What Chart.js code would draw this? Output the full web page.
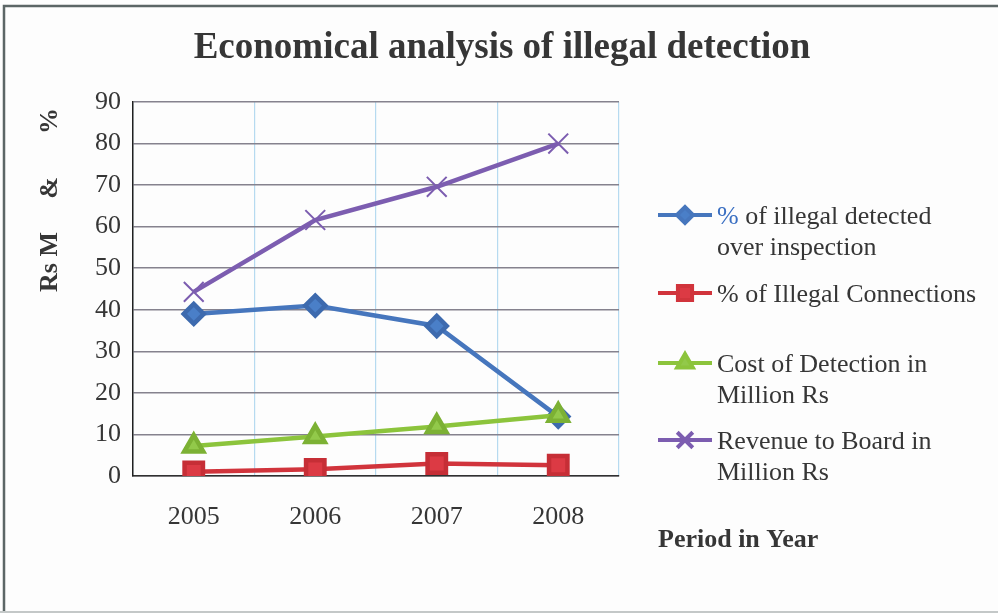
<!DOCTYPE html>
<html>
<head>
<meta charset="utf-8">
<script src="https://cdn.jsdelivr.net/npm/chart.js@4.4.1/dist/chart.umd.min.js"></script>
<style>
  html, body { margin: 0; padding: 0; background: #fdfdfd; }
  canvas { display: block; }
</style>
</head>
<body>
<canvas id="chart" width="998" height="613"></canvas>
<script>
// Years on the horizontal axis
const years = ['2005', '2006', '2007', '2008'];

// Series values (Rs M and %)
const pctDetectedOverInspection = [39.0, 41.0, 36.1, 14.3];
const pctIllegalConnections = [1.0, 1.6, 3.0, 2.6];
const costOfDetection = [7.2, 9.5, 11.9, 14.6];
const revenueToBoard = [44.3, 61.6, 69.6, 80.0];

// Legend text, one array of lines per series
const seriesLabels = [
  ['% of illegal detected', 'over inspection'],
  ['% of Illegal Connections'],
  ['Cost of Detection in', 'Million Rs'],
  ['Revenue to Board in', 'Million Rs']
];

const chartTitle = 'Economical analysis of illegal detection';
const xAxisTitle = 'Period in Year';
const yAxisTitleParts = ['Rs M', '&', '%'];

const SERIF = "'Liberation Serif', 'Times New Roman', serif";
const TEXT = '#363636';

// Title, axis titles, frame and multi-line legend
const decorations = {
  id: 'decorations',
  beforeDraw(chart) {
    const ctx = chart.ctx;
    ctx.save();
    ctx.fillStyle = '#fdfdfd';
    ctx.fillRect(0, 0, chart.width, chart.height);
    // outer frame
    ctx.strokeStyle = '#5c6666';
    ctx.lineWidth = 2.5;
    ctx.beginPath();
    ctx.moveTo(4, chart.height);
    ctx.lineTo(4, 6);
    ctx.lineTo(chart.width, 6);
    ctx.stroke();
    ctx.strokeStyle = '#c4c8c8';
    ctx.lineWidth = 2;
    ctx.beginPath();
    ctx.moveTo(0, chart.height - 1);
    ctx.lineTo(chart.width, chart.height - 1);
    ctx.stroke();
    ctx.restore();
  },
  afterDraw(chart) {
    const ctx = chart.ctx;
    ctx.save();
    ctx.fillStyle = TEXT;
    ctx.textBaseline = 'middle';

    // chart title
    ctx.font = 'bold 37px ' + SERIF;
    ctx.textAlign = 'center';
    ctx.fillText(chartTitle, 502, 48, 622);

    // x axis title, set to the right below the legend
    ctx.font = 'bold 26px ' + SERIF;
    ctx.textAlign = 'left';
    ctx.fillText(xAxisTitle, 658, 540);

    // y axis title, rotated, spaced out along the upper part of the axis
    ctx.save();
    ctx.translate(50, 0);
    ctx.rotate(-Math.PI / 2);
    ctx.textAlign = 'center';
    ctx.font = 'bold 26px ' + SERIF;
    const yPos = [262, 188, 121];
    yAxisTitleParts.forEach((t, i) => ctx.fillText(t, -yPos[i], 0));
    ctx.restore();

    // legend
    const rows = [215, 293, 363, 440];
    const lineH = 31;
    chart.data.datasets.forEach((ds, i) => {
      const y = rows[i];
      ctx.strokeStyle = ds.borderColor;
      ctx.lineWidth = 4;
      ctx.beginPath();
      ctx.moveTo(658, y);
      ctx.lineTo(712, y);
      ctx.stroke();
      ctx.fillStyle = ds.pointBackgroundColor;
      ctx.strokeStyle = ds.borderColor;
      Chart.helpers.drawPoint(ctx, {
        pointStyle: ds.pointStyle,
        radius: ds.legendRadius,
        rotation: 0,
        borderWidth: ds.pointStyle === 'crossRot' ? 2 : 1
      }, 685, y);

      ctx.font = '26px ' + SERIF;
      ctx.textAlign = 'left';
      seriesLabels[i].forEach((line, j) => {
        let x = 717;
        const ty = y + 2 + j * lineH;
        if (i === 0 && j === 0) {
          // leading percent sign printed in the series colour
          ctx.fillStyle = '#3a6fc2';
          ctx.fillText('%', x, ty);
          x += ctx.measureText('%').width;
          line = line.slice(1);
        }
        ctx.fillStyle = TEXT;
        ctx.fillText(line, x, ty);
      });
    });
    ctx.restore();
  }
};

new Chart(document.getElementById('chart'), {
  type: 'line',
  data: {
    labels: years,
    datasets: [
      {
        label: seriesLabels[0].join(' '),
        data: pctDetectedOverInspection,
        borderColor: '#4676bd',
        backgroundColor: '#4676bd',
        pointBackgroundColor: '#4a7fc8',
        pointBorderColor: '#3d6aae',
        pointStyle: 'rectRot',
        pointRadius: 10,
        legendRadius: 8,
        borderWidth: 4.5,
        order: 4
      },
      {
        label: seriesLabels[1].join(' '),
        data: pctIllegalConnections,
        borderColor: '#d1343c',
        backgroundColor: '#d1343c',
        pointBackgroundColor: '#dc3a44',
        pointBorderColor: '#c62e36',
        pointStyle: 'rect',
        pointRadius: 13,
        legendRadius: 10,
        borderWidth: 4.5,
        order: 3
      },
      {
        label: seriesLabels[2].join(' '),
        data: costOfDetection,
        borderColor: '#8cc43c',
        backgroundColor: '#8cc43c',
        pointBackgroundColor: '#92c94a',
        pointBorderColor: '#7cb134',
        pointStyle: 'triangle',
        pointRadius: 11,
        legendRadius: 9,
        borderWidth: 4.5,
        order: 2
      },
      {
        label: seriesLabels[3].join(' '),
        data: revenueToBoard,
        borderColor: '#7c5db0',
        backgroundColor: '#7c5db0',
        pointBackgroundColor: '#7c5db0',
        pointBorderColor: '#7c5db0',
        pointStyle: 'crossRot',
        pointRadius: 14,
        pointBorderWidth: 2,
        legendRadius: 11,
        borderWidth: 4.5,
        order: 1
      }
    ]
  },
  options: {
    responsive: false,
    animation: false,
    layout: { padding: { left: 0, right: 379, top: 102, bottom: 77 } },
    plugins: {
      legend: { display: false },
      title: { display: false },
      tooltip: { enabled: false }
    },
    elements: { line: { tension: 0 } },
    scales: {
      x: {
        offset: true,
        grid: {
          offset: true,
          color: '#b6daf0',
          lineWidth: 1.2,
          drawTicks: false
        },
        border: { color: '#303030', width: 1.5 },
        ticks: {
          padding: 26,
          color: TEXT,
          font: { family: SERIF, size: 26 }
        },
        afterFit(scale) { scale.height = 60; }
      },
      y: {
        min: 0,
        max: 90,
        grid: {
          color: '#85828e',
          lineWidth: 1.5,
          drawTicks: false
        },
        border: { color: '#202020', width: 1.5 },
        ticks: {
          stepSize: 10,
          padding: 12,
          color: TEXT,
          font: { family: SERIF, size: 26 }
        },
        afterFit(scale) { scale.width = 133; }
      }
    }
  },
  plugins: [decorations]
});
</script>
</body>
</html>
